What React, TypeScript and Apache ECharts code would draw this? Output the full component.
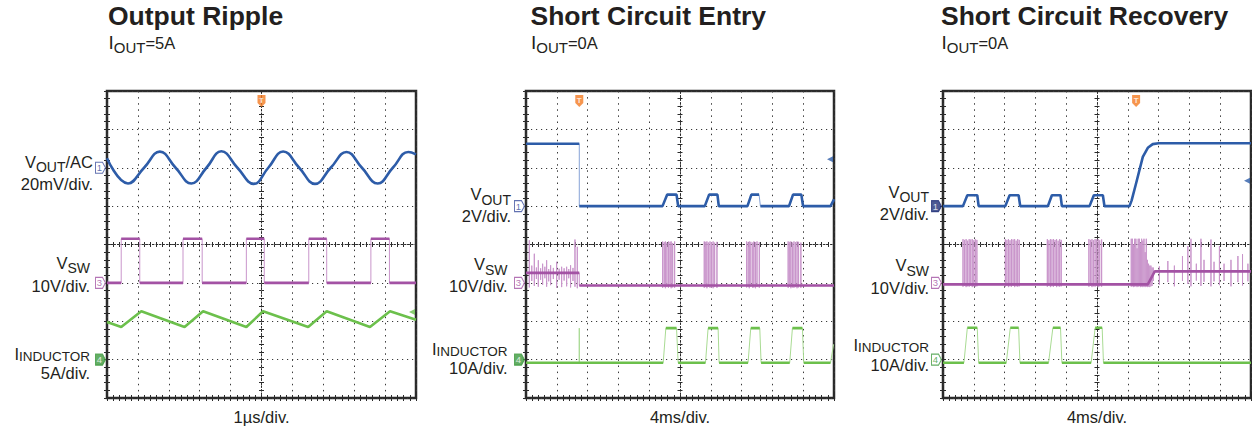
import React, { useEffect, useRef } from "react";
import * as echarts from "echarts";

const FONT = "'Liberation Sans', Arial, Helvetica, sans-serif";
const TEXT = "#231f20";
const FRAME = "#2a2a2a";
const CH_COLOR = ["#2d5ca8", "#a352a4", "#6cc04c"];
const CH_LIGHT = ["#86a3d6", "#c995cb", "#a9db93"];
const CH_MARK = ["#3b4f9e", "#a352a4", "#3d9a3d"];
const CH_MARK_FILLED = ["#1f2f78", "#a352a4", "#3d9a3d"];
const ORANGE = "#f47a22";

// ---------------- panel meta ----------------
const panelTitles = ["Output Ripple", "Short Circuit Entry", "Short Circuit Recovery"];
const panelLoads = ["5A", "0A", "0A"];
const timeLabels = ["1µs/div.", "4ms/div.", "4ms/div."];
const timePerDiv = [1, 4, 4];
const channelNumbers = [1, 3, 4];
const channelScale = [
  [20, 10, 5],
  [2, 10, 10],
  [2, 10, 10],
];
const channelRefDiv = [
  [2, 5, 7],
  [3, 5, 7],
  [3, 5, 7],
];
const markerFilled = [
  [false, false, true],
  [false, false, true],
  [true, false, false],
];
const labelMain = [
  ["{m|V}{s|OUT}{m|/AC}", "{m|V}{s|SW}", "{m|I}{t|INDUCTOR}"],
  ["{m|V}{s|OUT}", "{m|V}{s|SW}", "{m|I}{t|INDUCTOR}"],
  ["{m|V}{s|OUT}", "{m|V}{s|SW}", "{m|I}{t|INDUCTOR}"],
];
const labelScale = [
  ["20mV/div.", "10V/div.", "5A/div."],
  ["2V/div.", "10V/div.", "10A/div."],
  ["2V/div.", "10V/div.", "10A/div."],
];
const triggerTime = [5, 6.92, 25.08];
const levelMarkChannel = [2, 0, 0];
const levelMarkValue = [6.2, 2.44, 1.32];

// ---------------- panel 1 : output ripple (µs, mV / V / A) ----------------
const p1VoutT = [0, 0.68, 1.2, 1.71, 2.22, 2.73, 3.22, 3.7, 4.22, 4.75, 5.22, 5.7, 6.22, 6.73, 7.24, 7.75, 8.25, 8.76, 9.25, 9.75, 10];
const p1VoutMv = [5, -8.2, 0, 8.4, 0, -8.2, 0, 8.6, 0, -8.4, 0, 8.5, 0, -8.4, 0, 8.2, 0, -8.2, 0, 8.2, 7];
const p1SwRise = [0.46, 2.46, 4.51, 6.53, 8.54];
const p1SwFall = [1.06, 3.08, 5.09, 7.11, 9.14];
const p1SwHigh = 11.5;
const p1SwLow = 0;
const p1IlT = [0, 0.46, 1.11, 2.51, 3.11, 4.51, 5.05, 6.51, 7.11, 8.51, 9.16, 10];
const p1IlA = [4.9, 4.25, 6.3, 4.25, 6.3, 4.25, 6.3, 4.25, 6.3, 4.25, 6.3, 5.2];

// ---------------- panel 2 : short circuit entry (ms, V / V / A) ----------------
const p2VoutHigh = 3.25;
const p2ShortT = 6.92;
const p2VoutPulseStart = [17.73, 23.22, 28.76, 34.16];
const p2VoutPulseTop = [18.34, 23.78, 29.27, 34.68];
const p2VoutPulseTopEnd = [19.55, 24.86, 30.27, 35.76];
const p2VoutPulseEnd = [19.76, 25.04, 30.44, 35.98];
const p2VoutPulseV = 0.6;
const p2VoutTailT = [39.55, 40];
const p2VoutTailV = [0, 0.35];

const p2SwBefore = 2.6;
const p2SwAfter = -0.7;
const p2SwSpikeT = [0.43, 0.75, 1.08, 1.35, 1.6, 1.9, 2.16, 2.45, 2.68, 2.95, 3.2, 3.55, 3.98, 4.3, 4.63, 4.95, 5.28, 5.55, 5.79, 6.1, 6.36, 6.66,
  17.75, 17.95, 18.1, 18.3, 18.5, 18.7, 18.85, 19.05, 19.3,
  23.15, 23.35, 23.5, 23.7, 23.9, 24.1, 24.3, 24.5, 24.8,
  28.65, 28.85, 29.0, 29.2, 29.45, 29.6, 29.8, 30.0, 30.3,
  34.05, 34.25, 34.4, 34.6, 34.8, 35.0, 35.2, 35.4, 35.7];
const p2SwSpikeTop = [11.1, 4.5, 7.6, 4.0, 5.9, 3.8, 5.0, 4.2, 5.9, 3.6, 4.6, 3.9, 5.5, 3.7, 4.2, 3.8, 4.2, 3.6, 4.6, 3.9, 11.3, 9.4,
  10.8, 10.6, 10.8, 10.5, 10.8, 10.7, 10.8, 10.4, 10.8,
  10.8, 10.7, 10.8, 10.5, 10.8, 10.6, 10.8, 10.5, 10.7,
  10.8, 10.6, 10.8, 10.7, 10.5, 10.8, 10.6, 10.8, 10.6,
  10.8, 10.7, 10.8, 10.5, 10.8, 10.6, 10.8, 10.7, 10.5];
const p2SwSpikeBot = [-1.2, 0.5, -0.8, 1.0, -1.0, 0.8, -0.5, 1.2, -1.0, 0.4, -0.6, 1.0, -1.3, 0.8, -1.1, 0.6, -0.9, 1.2, -1.2, 0.5, -1.0, -1.4,
  -1.3, -1.0, -1.4, -1.1, -1.3, -1.0, -1.4, -1.2, -1.3,
  -1.3, -1.1, -1.4, -1.0, -1.3, -1.2, -1.4, -1.1, -1.3,
  -1.2, -1.1, -1.4, -1.0, -1.3, -1.2, -1.4, -1.1, -1.3,
  -1.3, -1.0, -1.4, -1.2, -1.3, -1.1, -1.4, -1.2, -1.3];

const p2IlBase = -0.8;
const p2IlSpikeT = [6.92];
const p2IlSpikeTop = [8.2];
const p2IlPulseStart = [17.82, 23.31, 28.84, 34.25];
const p2IlPulseTop = [18.16, 23.65, 29.19, 34.6];
const p2IlPulseTopEnd = [19.55, 24.95, 30.36, 35.9];
const p2IlPulseEnd = [19.76, 25.08, 30.53, 36.07];
const p2IlPulseA = 8.2;
const p2IlTailT = [39.55, 39.95];
const p2IlTailA = [-0.8, 4.0];

// ---------------- panel 3 : short circuit recovery (ms, V / V / A) ----------------
const p3VoutPulseStart = [2.59, 8.09, 13.62, 19.03];
const p3VoutPulseTop = [3.16, 8.65, 14.14, 19.59];
const p3VoutPulseTopEnd = [4.45, 9.82, 15.26, 20.76];
const p3VoutPulseEnd = [4.63, 10.03, 15.44, 20.97];
const p3VoutPulseV = 0.57;
const p3VoutRampT = [24.22, 24.5, 25.08, 25.95, 26.6, 27.24, 28.0, 40];
const p3VoutRampV = [0, 0.3, 1.19, 2.57, 3.04, 3.23, 3.28, 3.28];

const p3SwLevelT = [0, 26.6, 27.5, 40];
const p3SwLevelV = [-0.4, -0.4, 3.0, 3.0];
const p3SwSpikeT = [2.6, 2.8, 3.0, 3.2, 3.4, 3.6, 3.8, 4.0, 4.2, 4.4,
  8.1, 8.3, 8.5, 8.7, 8.9, 9.1, 9.3, 9.5, 9.7, 9.9,
  13.55, 13.75, 13.95, 14.15, 14.35, 14.55, 14.75, 14.95, 15.15, 15.35,
  18.95, 19.15, 19.35, 19.55, 19.75, 19.95, 20.15, 20.35, 20.6,
  24.45, 24.6, 24.75, 24.9, 25.05, 25.2, 25.35, 25.5, 25.65, 25.8, 25.95, 26.1, 26.25, 26.4, 26.55, 26.7, 26.85, 27.0, 27.15, 27.3,
  28.1, 29.2, 30.05, 31.1, 31.8, 32.2, 32.9, 33.5, 33.9, 34.8, 35.2, 35.9, 36.5, 37.4, 38.3, 38.9, 39.6];
const p3SwSpikeTop = [11.4, 11.2, 11.4, 11.0, 11.4, 11.3, 11.4, 11.1, 11.4, 11.2,
  11.4, 11.2, 11.4, 11.1, 11.4, 11.3, 11.4, 11.0, 11.4, 11.2,
  11.4, 11.1, 11.4, 11.3, 11.4, 11.2, 11.4, 11.0, 11.4, 11.2,
  11.4, 11.2, 11.4, 11.1, 11.4, 11.3, 11.4, 11.1, 11.3,
  11.5, 11.5, 10.0, 11.5, 11.5, 9.0, 11.5, 11.5, 10.5, 11.5, 11.0, 11.5, 8.0, 11.5, 6.0, 5.0, 4.5, 4.5, 4.0, 4.0,
  4.3, 5.7, 4.5, 7.0, 9.6, 11.5, 5.0, 11.5, 6.0, 11.3, 5.5, 9.6, 5.0, 6.0, 7.0, 7.5, 5.0];
const p3SwSpikeBot = [-1.0, -0.8, -1.1, -0.9, -1.0, -0.8, -1.1, -0.9, -1.0, -0.9,
  -1.0, -0.8, -1.1, -0.9, -1.0, -0.8, -1.1, -0.9, -1.0, -0.9,
  -1.0, -0.8, -1.1, -0.9, -1.0, -0.8, -1.1, -0.9, -1.0, -0.9,
  -1.0, -0.8, -1.1, -0.9, -1.0, -0.8, -1.1, -0.9, -1.0,
  -1.0, -0.9, -1.1, -1.0, -0.9, -1.1, -1.0, -0.9, -1.1, -1.0, -1.1, -1.0, -1.1, -1.0, -1.1, -1.0, -1.1, -0.9, -0.8, 0.5,
  -0.5, 0.2, -0.9, 0.5, -0.3, -0.9, 0.6, -0.8, 0.3, -0.9, 0.4, -0.6, 0.5, -0.9, 0.2, -0.7, 0.4];

const p3IlBase = -0.8;
const p3IlPulseStart = [2.72, 8.22, 13.71, 19.24];
const p3IlPulseTop = [3.16, 8.74, 14.27, 19.76];
const p3IlPulseTopEnd = [4.45, 9.82, 15.26, 20.67];
const p3IlPulseEnd = [4.63, 9.99, 15.44, 20.84];
const p3IlPulseA = 8.3;

// ---------------- layout (pixels) ----------------
const GRID_LEFT = [107, 526, 943];
const GRID_WIDTH = [309, 308, 308];
const GRID_TOP = 91;
const GRID_HEIGHT = 307;
const TITLE_X = [108, 530.5, 941];
const SUB_BASE = 48.7;
const LABEL_RIGHT = [
  [93, 90, 90],
  [511, 507.5, 507.5],
  [929, 929, 929],
];
const LABEL_BASE1 = [
  [167.3, 268.3, 359.5],
  [200, 270, 354.5],
  [197.3, 271, 350.7],
];
const LABEL_BASE2 = [
  [190, 291.7, 379],
  [221.7, 291.7, 374],
  [219.3, 293.3, 370.3],
];
const STEEP = [8, 3, 3];

// ---------------- helpers ----------------
type Pt = [number, number];
const zip = (t: number[], v: number[]): Pt[] => t.map((x, i) => [x, v[i]] as Pt);

function pulses(start: number[], top: number[], topEnd: number[], end: number[], base: number, level: number): Pt[] {
  const out: Pt[] = [];
  start.forEach((s, i) => {
    out.push([s, base], [top[i], level], [topEnd[i], level], [end[i], base]);
  });
  return out;
}

function squareWave(rise: number[], fall: number[], lo: number, hi: number, tEnd: number): Pt[] {
  const out: Pt[] = [[0, lo]];
  rise.forEach((r, i) => {
    out.push([r, lo], [r, hi], [fall[i], hi], [fall[i], lo]);
  });
  out.push([tEnd, lo]);
  return out;
}

function withSpikes(poly: Pt[], st: number[], top: number[], bot: number[]): any[] {
  const sp = st.map((t, i) => [t, top[i], bot[i]]).sort((a, b) => a[0] - b[0]);
  const out: any[] = [];
  let j = 0;
  for (let i = 0; i < poly.length; i++) {
    out.push(poly[i]);
    if (i < poly.length - 1) {
      const [t0, v0] = poly[i];
      const [t1, v1] = poly[i + 1];
      while (j < sp.length && sp[j][0] < t1) {
        if (sp[j][0] >= t0) {
          const t = sp[j][0];
          const base = t1 === t0 ? v1 : v0 + ((v1 - v0) * (t - t0)) / (t1 - t0);
          out.push([t, base], [t, sp[j][1]], [t, sp[j][2]], [t, base]);
        }
        j++;
      }
    }
  }
  return out;
}

function splitSteep(pts: Pt[], xSpan: number, ySpan: number, w: number, h: number, maxSlope: number): any[] {
  const out: any[] = [];
  for (let i = 0; i < pts.length; i++) {
    if (i > 0) {
      const dx = (Math.abs(pts[i][0] - pts[i - 1][0]) / xSpan) * w;
      const dy = (Math.abs(pts[i][1] - pts[i - 1][1]) / ySpan) * h;
      if (dy > maxSlope * dx + 0.5) out.push([pts[i][0], "-"]);
    }
    out.push(pts[i]);
  }
  return out;
}

function buildTraces() {
  const p1 = [
    { poly: zip(p1VoutT, p1VoutMv), smooth: true },
    { poly: squareWave(p1SwRise, p1SwFall, p1SwLow, p1SwHigh, 10) },
    { poly: zip(p1IlT, p1IlA) },
  ];
  const p2 = [
    {
      poly: [
        [0, p2VoutHigh],
        [p2ShortT, p2VoutHigh],
        [p2ShortT, 0],
        ...pulses(p2VoutPulseStart, p2VoutPulseTop, p2VoutPulseTopEnd, p2VoutPulseEnd, 0, p2VoutPulseV),
        ...zip(p2VoutTailT, p2VoutTailV),
      ] as Pt[],
    },
    {
      poly: [
        [0, p2SwBefore],
        [p2ShortT, p2SwBefore],
        [p2ShortT, p2SwAfter],
        [40, p2SwAfter],
      ] as Pt[],
      spikes: [p2SwSpikeT, p2SwSpikeTop, p2SwSpikeBot],
    },
    {
      poly: [[0, p2IlBase], ...pulses(p2IlPulseStart, p2IlPulseTop, p2IlPulseTopEnd, p2IlPulseEnd, p2IlBase, p2IlPulseA), ...zip(p2IlTailT, p2IlTailA)] as Pt[],
      spikes: [p2IlSpikeT, p2IlSpikeTop, p2IlSpikeT.map(() => p2IlBase)],
    },
  ];
  const p3 = [
    {
      poly: [[0, 0], ...pulses(p3VoutPulseStart, p3VoutPulseTop, p3VoutPulseTopEnd, p3VoutPulseEnd, 0, p3VoutPulseV), ...zip(p3VoutRampT, p3VoutRampV)] as Pt[],
    },
    { poly: zip(p3SwLevelT, p3SwLevelV), spikes: [p3SwSpikeT, p3SwSpikeTop, p3SwSpikeBot] },
    {
      poly: [[0, p3IlBase], ...pulses(p3IlPulseStart, p3IlPulseTop, p3IlPulseTopEnd, p3IlPulseEnd, p3IlBase, p3IlPulseA), [40, p3IlBase]] as Pt[],
    },
  ];
  return [p1, p2, p3];
}

const TAG_PATH = "path://M0,0L7,0L10,5.5L7,11L0,11Z";
const TRIG_PATH = "path://M0,0L8,0L8,8L4,12L0,8Z";

function buildOption() {
  const traces = buildTraces();
  const grid: any[] = [];
  const xAxis: any[] = [];
  const yAxis: any[] = [];
  const series: any[] = [];
  const graphic: any[] = [];

  const tick = (len: number, inside: boolean) => ({
    axisTick: { show: true, inside, length: len, lineStyle: { color: FRAME, width: 1 } },
    minorTick: { show: true, splitNumber: 5, length: len, lineStyle: { color: FRAME, width: 1 } },
  });
  const noLabel = { axisLabel: { show: false } };

  for (let p = 0; p < 3; p++) {
    const W = GRID_WIDTH[p];
    const H = GRID_HEIGHT;
    const tpd = timePerDiv[p];
    const xmax = 10 * tpd;
    grid.push({
      left: GRID_LEFT[p],
      top: GRID_TOP,
      width: W,
      height: H,
      show: true,
      borderColor: FRAME,
      borderWidth: 2.5,
      backgroundColor: "rgba(0,0,0,0)",
    });
    const xb = xAxis.length;
    const xCommon = { gridIndex: p, type: "value", min: 0, max: xmax, interval: tpd, ...noLabel };
    xAxis.push({
      ...xCommon,
      position: "bottom",
      axisLine: { show: false },
      ...tick(3, true),
      splitLine: { show: true, lineStyle: { color: "#3a3a3a", width: 1, type: [1.5, 4.6] } },
      name: timeLabels[p],
      nameLocation: "middle",
      nameGap: 10,
      nameTextStyle: { fontSize: 16.5, fontFamily: FONT, color: TEXT },
    });
    xAxis.push({ ...xCommon, position: "top", axisLine: { show: false }, ...tick(3, true), splitLine: { show: false } });
    xAxis.push({
      ...xCommon,
      position: "bottom",
      offset: -H / 2,
      axisLine: { show: true, lineStyle: { color: FRAME, width: 1, type: [1.5, 2] } },
      ...tick(2.5, true),
      splitLine: { show: false },
    });
    xAxis.push({ ...xCommon, position: "bottom", offset: -H / 2, axisLine: { show: false }, ...tick(2.5, false), splitLine: { show: false } });

    const yb = yAxis.length;
    const yCommon = { gridIndex: p, type: "value", min: 0, max: 8, interval: 1, ...noLabel };
    yAxis.push({
      ...yCommon,
      position: "left",
      axisLine: { show: false },
      ...tick(3, true),
      splitLine: { show: true, lineStyle: { color: "#3a3a3a", width: 1, type: [1.2, 3.8] } },
    });
    yAxis.push({ ...yCommon, position: "right", axisLine: { show: false }, ...tick(3, true), splitLine: { show: false } });
    yAxis.push({
      ...yCommon,
      position: "left",
      offset: -W / 2,
      axisLine: { show: true, lineStyle: { color: FRAME, width: 1, type: [1.5, 2] } },
      ...tick(2.5, true),
      splitLine: { show: false },
    });
    yAxis.push({ ...yCommon, position: "left", offset: -W / 2, axisLine: { show: false }, ...tick(2.5, false), splitLine: { show: false } });
    for (let c = 0; c < 3; c++) {
      const s = channelScale[p][c];
      const ref = channelRefDiv[p][c];
      yAxis.push({ gridIndex: p, type: "value", show: false, position: "left", min: -(8 - ref) * s, max: ref * s });
    }

    for (let c = 0; c < 3; c++) {
      const tr: any = traces[p][c];
      const yIdx = yb + 4 + c;
      const ySpan = 8 * channelScale[p][c];
      if (!tr.smooth) {
        const thin = tr.spikes ? withSpikes(tr.poly, tr.spikes[0], tr.spikes[1], tr.spikes[2]) : tr.poly;
        series.push({
          type: "line",
          xAxisIndex: xb,
          yAxisIndex: yIdx,
          data: thin,
          showSymbol: false,
          symbol: "none",
          silent: true,
          lineStyle: { color: CH_LIGHT[c], width: 1 },
          z: 3,
        });
      }
      series.push({
        type: "line",
        xAxisIndex: xb,
        yAxisIndex: yIdx,
        data: tr.smooth ? tr.poly : splitSteep(tr.poly, xmax, ySpan, W, H, STEEP[c]),
        smooth: tr.smooth ? 0.45 : false,
        connectNulls: false,
        showSymbol: false,
        symbol: "none",
        silent: true,
        lineStyle: { color: CH_COLOR[c], width: 2.6 },
        z: 4,
      });
      const filled = markerFilled[p][c];
      const mc = filled ? CH_MARK_FILLED[c] : CH_MARK[c];
      series.push({
        type: "scatter",
        xAxisIndex: xb,
        yAxisIndex: yIdx,
        data: [[0, 0]],
        symbol: TAG_PATH,
        symbolSize: [10, 11],
        symbolOffset: [-6.5, 0],
        clip: false,
        silent: true,
        itemStyle: { color: filled ? mc : "#ffffff", borderColor: mc, borderWidth: 1 },
        label: {
          show: true,
          position: "inside",
          formatter: String(channelNumbers[c]),
          color: filled ? "#ffffff" : mc,
          fontSize: 9.5,
          fontFamily: FONT,
          offset: [-1, 0],
        },
        z: 6,
      });
    }
    series.push({
      type: "scatter",
      xAxisIndex: xb,
      yAxisIndex: yb,
      data: [[triggerTime[p], 8]],
      symbol: TRIG_PATH,
      symbolSize: [8, 12],
      symbolOffset: [0, 10],
      clip: false,
      silent: true,
      itemStyle: { color: ORANGE },
      label: { show: true, position: "inside", formatter: "T", color: "#fff", fontSize: 8, fontWeight: "bold", fontFamily: FONT, offset: [0, -1] },
      z: 6,
    });
    const lc = levelMarkChannel[p];
    series.push({
      type: "scatter",
      xAxisIndex: xb,
      yAxisIndex: yb + 4 + lc,
      data: [[xmax, levelMarkValue[p]]],
      symbol: "triangle",
      symbolRotate: 90,
      symbolSize: [6, 6],
      symbolOffset: [-4, 0],
      clip: false,
      silent: true,
      itemStyle: { color: CH_COLOR[lc] },
      z: 6,
    });

    // texts
    graphic.push({
      type: "text",
      x: TITLE_X[p],
      y: 16,
      style: { text: panelTitles[p], fontSize: 26.5, fontWeight: "bold", fontFamily: FONT, fill: TEXT, align: "left", verticalAlign: "middle" },
    });
    graphic.push({
      type: "text",
      x: TITLE_X[p] + 0.5,
      y: SUB_BASE - 6.6,
      style: {
        text: `{i|I}{s|OUT}{m|=${panelLoads[p]}}`,
        fontSize: 17,
        fontFamily: FONT,
        fill: TEXT,
        align: "left",
        verticalAlign: "middle",
        rich: {
          i: { fontSize: 19, fontFamily: FONT, fill: TEXT, lineHeight: 24, verticalAlign: "middle" },
          s: { fontSize: 15, fontFamily: FONT, fill: TEXT, lineHeight: 10, height: 13.2, verticalAlign: "bottom" },
          m: { fontSize: 16.5, fontFamily: FONT, fill: TEXT, lineHeight: 10, height: 22.2, verticalAlign: "bottom" },
        },
      },
    });
    for (let c = 0; c < 3; c++) {
      graphic.push({
        type: "text",
        x: LABEL_RIGHT[p][c],
        y: LABEL_BASE1[p][c] - 5.7,
        style: {
          text: labelMain[p][c],
          fontSize: 16.5,
          fontFamily: FONT,
          fill: TEXT,
          align: "right",
          verticalAlign: "middle",
          rich: {
            m: { fontSize: 16.5, fontFamily: FONT, fill: TEXT, lineHeight: 14, verticalAlign: "middle" },
            s: { fontSize: 14, fontFamily: FONT, fill: TEXT, lineHeight: 8, height: 2.3, verticalAlign: "bottom" },
            t: { fontSize: 13.5, fontFamily: FONT, fill: TEXT, lineHeight: 8, height: 9.6, verticalAlign: "bottom" },
          },
        },
      });
      graphic.push({
        type: "text",
        x: LABEL_RIGHT[p][c],
        y: LABEL_BASE2[p][c] - 5.7,
        style: { text: labelScale[p][c], fontSize: 16.5, lineHeight: 14, fontFamily: FONT, fill: TEXT, align: "right", verticalAlign: "middle" },
      });
    }
  }

  return {
    animation: false,
    backgroundColor: "#ffffff",
    grid,
    xAxis,
    yAxis,
    series,
    graphic,
  };
}

export default function App() {
  const ref = useRef<HTMLDivElement>(null);
  useEffect(() => {
    document.body.style.margin = "0";
    if (!ref.current) return;
    const chart = echarts.init(ref.current, null, { renderer: "svg" });
    chart.setOption(buildOption() as any);
    return () => chart.dispose();
  }, []);
  return <div ref={ref} style={{ width: 1252, height: 431 }} />;
}
